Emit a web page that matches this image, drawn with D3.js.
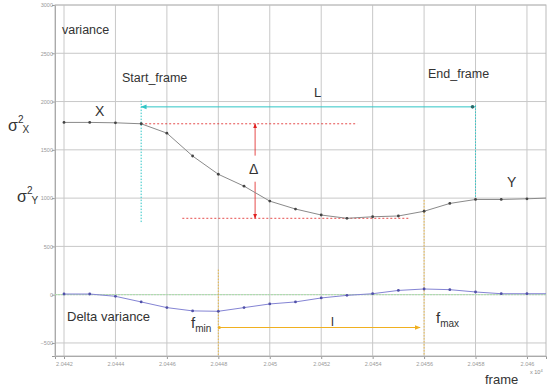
<!DOCTYPE html>
<html>
<head>
<meta charset="utf-8">
<script src="https://cdn.jsdelivr.net/npm/d3@7"></script>
<style>
  body { margin: 0; background: #fff; }
  svg { display: block; font-family: "Liberation Sans", Arial, sans-serif; }
</style>
</head>
<body>
<svg></svg>
<script>
// data
let frames = [20442, 20443, 20444, 20445, 20446, 20447, 20448, 20449, 20450, 20451,
              20452, 20453, 20454, 20455, 20456, 20457, 20458, 20459, 20460, 20461];
let variance = [1784, 1784, 1780, 1770, 1673, 1436, 1247, 1124, 969, 887,
                825, 791, 807, 815, 864, 945, 986, 986, 993, 1003];
let deltaVariance = [7, 7, -17, -75, -134, -168, -172, -134, -96, -75,
                     -34, -7, 10, 44, 59, 52, 28, 10, 10, 10];
let xTicks = [20442, 20444, 20446, 20448, 20450, 20452, 20454, 20456, 20458, 20460];
let xTickLabels = ["2.0442", "2.0444", "2.0446", "2.0448", "2.045", "2.0452", "2.0454", "2.0456", "2.0458", "2.046"];
let yTicks = [-500, 0, 500, 1000, 1500, 2000, 2500, 3000];

let startFrame = 20445, endFrame = 20458, fMin = 20448, fMax = 20456;

let width = 549, height = 387;
let svg = d3.select("svg").attr("width", width).attr("height", height);

let x = d3.scaleLinear().domain([20441.65, 20460.74]).range([55, 546]);
let y = d3.scaleLinear().domain([-635, 3000]).range([356, 5]);

let defs = svg.append("defs");
defs.append("clipPath").attr("id", "plot")
  .append("rect").attr("x", 55).attr("y", 5).attr("width", 491).attr("height", 351);

function arrow(id, col) {
  defs.append("marker").attr("id", id)
    .attr("viewBox", "0 0 10 10").attr("refX", 9).attr("refY", 5)
    .attr("markerWidth", 6).attr("markerHeight", 6).attr("orient", "auto-start-reverse")
    .append("path").attr("d", "M0,1 L10,5 L0,9 Z").attr("fill", col);
}
arrow("cyanArrow", "#2fc6c6");
arrow("redArrow", "#e02020");
arrow("orangeArrow", "#f0b020");

// grid
svg.append("g").selectAll("line").data(xTicks).enter().append("line")
  .attr("x1", d => x(d)).attr("x2", d => x(d)).attr("y1", 5).attr("y2", 356)
  .attr("stroke", "#c8c8c8").attr("stroke-width", 1);
svg.append("g").selectAll("line").data(yTicks).enter().append("line")
  .attr("x1", 55).attr("x2", 546).attr("y1", d => y(d)).attr("y2", d => y(d))
  .attr("stroke", "#c8c8c8").attr("stroke-width", 1);

// axes
let axisX = d3.axisBottom(x).tickValues(xTicks).tickFormat((d, i) => xTickLabels[i]).tickSize(3);
let gx = svg.append("g").attr("transform", "translate(0,356)").call(axisX);
let axisY = d3.axisLeft(y).tickValues(yTicks).tickFormat(d3.format("d")).tickSize(3);
let gy = svg.append("g").attr("transform", "translate(55,0)").call(axisY);
[gx, gy].forEach(g => {
  g.select(".domain").attr("stroke", "#999");
  g.selectAll(".tick line").attr("stroke", "#999");
  g.selectAll(".tick text").attr("fill", "#999").attr("font-size", 5.5)
    .attr("font-family", "Liberation Sans, Arial, sans-serif");
});
gy.selectAll(".tick text").attr("x", -2);
svg.append("rect").attr("x", 55).attr("y", 5).attr("width", 491).attr("height", 351)
  .attr("fill", "none").attr("stroke", "#bbb");

// zero line
svg.append("line").attr("x1", 55).attr("x2", 546).attr("y1", y(0)).attr("y2", y(0))
  .attr("stroke", "#a8e0a8").attr("stroke-dasharray", "2,1");

let plot = svg.append("g").attr("clip-path", "url(#plot)");

// annotation lines
let cyan = "#2fc6c6", red = "#e02020", orange = "#f0b020";
plot.append("line").attr("x1", x(startFrame)).attr("x2", x(startFrame))
  .attr("y1", y(2010)).attr("y2", y(752)).attr("stroke", cyan).attr("stroke-dasharray", "1.5,1.5");
plot.append("line").attr("x1", x(endFrame)).attr("x2", x(endFrame))
  .attr("y1", y(1960)).attr("y2", y(1000)).attr("stroke", cyan).attr("stroke-dasharray", "1.5,1.5");
plot.append("line").attr("x1", x(endFrame)).attr("x2", x(startFrame))
  .attr("y1", y(1945)).attr("y2", y(1945)).attr("stroke", cyan).attr("stroke-width", 1)
  .attr("marker-end", "url(#cyanArrow)");
plot.append("circle").attr("cx", x(endFrame) - 3).attr("cy", y(1945)).attr("r", 1.8).attr("fill", "#2a6a6a");

plot.append("line").attr("x1", x(startFrame)).attr("x2", x(20453.4))
  .attr("y1", y(1770)).attr("y2", y(1770)).attr("stroke", red).attr("stroke-dasharray", "2,2").attr("stroke-width", 0.8);
plot.append("line").attr("x1", x(20446.6)).attr("x2", x(20455.4))
  .attr("y1", y(791)).attr("y2", y(791)).attr("stroke", red).attr("stroke-dasharray", "2,2").attr("stroke-width", 0.8);
plot.append("line").attr("x1", x(20449.43)).attr("x2", x(20449.43))
  .attr("y1", y(1440)).attr("y2", y(1770)).attr("stroke", red).attr("stroke-width", 0.8)
  .attr("marker-end", "url(#redArrow)");
plot.append("line").attr("x1", x(20449.43)).attr("x2", x(20449.43))
  .attr("y1", y(1170)).attr("y2", y(791)).attr("stroke", red).attr("stroke-width", 0.8)
  .attr("marker-end", "url(#redArrow)");

plot.append("line").attr("x1", x(fMin)).attr("x2", x(fMin))
  .attr("y1", y(260)).attr("y2", 356).attr("stroke", orange).attr("stroke-dasharray", "1.5,1.5").attr("stroke-width", 0.8);
plot.append("line").attr("x1", x(fMax)).attr("x2", x(fMax))
  .attr("y1", y(980)).attr("y2", 356).attr("stroke", orange).attr("stroke-dasharray", "1.5,1.5").attr("stroke-width", 0.8);
plot.append("line").attr("x1", x(fMin)).attr("x2", x(fMax) - 4)
  .attr("y1", y(-340)).attr("y2", y(-340)).attr("stroke", orange).attr("stroke-width", 1)
  .attr("marker-end", "url(#orangeArrow)");
plot.append("circle").attr("cx", x(fMin) + 1).attr("cy", y(-340)).attr("r", 1.5).attr("fill", orange);

// series
let pts = frames.map((f, i) => ({ f: f, v: variance[i], d: deltaVariance[i] }));
plot.append("path").datum(pts).attr("fill", "none").attr("stroke", "#8a8a8a").attr("stroke-width", 1)
  .attr("d", d3.line().x(p => x(p.f)).y(p => y(p.v)));
plot.selectAll(".vdot").data(pts.filter(p => p.f <= 20460)).enter().append("circle")
  .attr("cx", p => x(p.f)).attr("cy", p => y(p.v)).attr("r", 1.4).attr("fill", "#444");
plot.append("path").datum(pts).attr("fill", "none").attr("stroke", "#8484d4").attr("stroke-width", 1)
  .attr("d", d3.line().x(p => x(p.f)).y(p => y(p.d)));
plot.selectAll(".ddot").data(pts.filter(p => p.f <= 20460)).enter().append("circle")
  .attr("cx", p => x(p.f)).attr("cy", p => y(p.d)).attr("r", 1.4).attr("fill", "#5050a8");

// labels
function label(t, px, py, size, col) {
  return svg.append("text").attr("x", px).attr("y", py).attr("font-size", size)
    .attr("fill", col || "#333").text(t);
}
label("variance", 62, 34, 12.5);
label("Start_frame", 122, 82, 12.5);
label("End_frame", 428, 78, 12.5);
label("X", 95, 116, 14);
label("L", 314, 97, 13);
label("Δ", 249, 174, 14);
label("Y", 507, 187, 14);
label("Delta variance", 67, 321, 13);
label("l", 331, 326, 13);
label("frame", 485, 384, 13);

function sigma(sub, px, py) {
  let t = svg.append("text").attr("x", px).attr("y", py).attr("fill", "#333").attr("font-size", 16).text("σ");
  t.append("tspan").attr("font-size", 10).attr("dy", -8).text("2");
  t.append("tspan").attr("font-size", 10).attr("dy", 10).attr("dx", -1).text(sub);
}
sigma("X", 8, 131);
sigma("Y", 17, 202);

function fsub(sub, px, py) {
  let t = svg.append("text").attr("x", px).attr("y", py).attr("fill", "#333").attr("font-size", 15).text("f");
  t.append("tspan").attr("font-size", 10).attr("dy", 4).text(sub);
}
fsub("min", 191, 328);
fsub("max", 436, 323);

let sc = svg.append("text").attr("x", 530).attr("y", 374).attr("fill", "#888").attr("font-size", 5.5).text("x 10");
sc.append("tspan").attr("font-size", 4).attr("dy", -2).text("4");
</script>
</body>
</html>
